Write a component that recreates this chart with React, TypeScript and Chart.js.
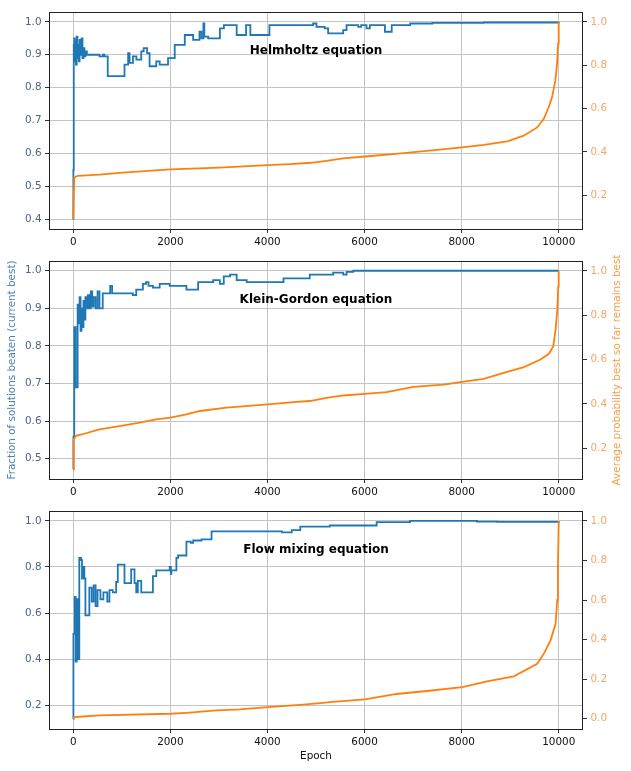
import React, { useEffect, useRef } from "react";
import { Chart, registerables } from "chart.js";

Chart.register(...registerables);

// ---------- data ----------
const epochTicks = [0, 2000, 4000, 6000, 8000, 10000];

const helmholtzTitle = "Helmholtz equation";
const helmholtzBestEpochs = [0, 2, 10, 20, 30, 40, 55, 70, 85, 100, 115, 130, 150, 170, 190, 210, 230, 250, 280, 540, 610, 640, 710, 1055, 1130, 1160, 1230, 1300, 1400, 1450, 1520, 1572, 1710, 1780, 1952, 2090, 2297, 2469, 2600, 2640, 2680, 2700, 2779, 3021, 3103, 3366, 3559, 3648, 4041, 4940, 5009, 5180, 5250, 5560, 5630, 5870, 5930, 6040, 6110, 6420, 6560, 6940, 7400, 8454, 10000];
const helmholtzBestValues = [0.40, 0.55, 0.93, 0.95, 0.88, 0.94, 0.87, 0.955, 0.89, 0.93, 0.88, 0.945, 0.90, 0.95, 0.89, 0.92, 0.895, 0.91, 0.90, 0.895, 0.90, 0.895, 0.835, 0.87, 0.905, 0.875, 0.895, 0.885, 0.91, 0.92, 0.905, 0.865, 0.88, 0.87, 0.89, 0.93, 0.96, 0.945, 0.97, 0.95, 0.995, 0.955, 0.95, 0.98, 0.99, 0.96, 0.99, 0.96, 0.99, 0.995, 0.985, 0.98, 0.965, 0.975, 0.99, 0.985, 0.99, 0.98, 0.99, 0.97, 0.99, 0.995, 0.997, 0.998, 1.0];
const helmholtzProbEpochs = [0, 20, 90, 540, 1020, 2000, 3020, 4000, 4470, 4900, 5215, 5560, 6006, 6594, 7283, 8010, 8455, 8938, 9280, 9555, 9690, 9793, 9862, 9931, 9966, 9986, 10000];
const helmholtzProbValues = [0.09, 0.282, 0.29, 0.295, 0.305, 0.32, 0.328, 0.339, 0.344, 0.35, 0.359, 0.37, 0.379, 0.39, 0.405, 0.421, 0.433, 0.449, 0.475, 0.513, 0.552, 0.606, 0.652, 0.73, 0.807, 0.90, 1.0];
const helmholtzLeftTicks = [0.4, 0.5, 0.6, 0.7, 0.8, 0.9, 1.0];
const helmholtzRightTicks = [0.2, 0.4, 0.6, 0.8, 1.0];

const kleinTitle = "Klein-Gordon equation";
const kleinBestEpochs = [0, 3, 20, 50, 90, 110, 130, 150, 170, 190, 210, 230, 250, 270, 300, 330, 360, 390, 420, 460, 500, 540, 607, 760, 800, 1228, 1297, 1434, 1500, 1550, 1641, 1780, 1986, 2330, 2572, 2883, 3020, 3100, 3230, 3366, 3572, 4331, 4871, 5353, 5560, 5630, 5767, 10000];
const kleinBestValues = [0.472, 0.558, 0.85, 0.69, 0.91, 0.86, 0.93, 0.84, 0.90, 0.85, 0.92, 0.87, 0.93, 0.90, 0.935, 0.90, 0.945, 0.905, 0.93, 0.90, 0.945, 0.90, 0.94, 0.96, 0.94, 0.935, 0.95, 0.965, 0.97, 0.96, 0.955, 0.965, 0.96, 0.95, 0.97, 0.975, 0.965, 0.985, 0.99, 0.975, 0.97, 0.98, 0.99, 0.995, 0.99, 0.997, 1.0, 1.0];
const kleinProbEpochs = [0, 10, 55, 193, 538, 952, 1366, 1710, 2000, 2331, 2607, 3159, 4007, 4538, 4871, 5215, 5560, 6006, 6456, 7007, 7627, 8013, 8454, 8867, 9280, 9625, 9797, 9887, 9935, 9970, 9990, 10000];
const kleinProbValues = [0.106, 0.24, 0.256, 0.263, 0.285, 0.30, 0.315, 0.33, 0.338, 0.353, 0.368, 0.383, 0.398, 0.408, 0.413, 0.427, 0.438, 0.445, 0.453, 0.477, 0.487, 0.499, 0.513, 0.54, 0.566, 0.60, 0.626, 0.659, 0.734, 0.824, 0.93, 1.0];
const kleinLeftTicks = [0.5, 0.6, 0.7, 0.8, 0.9, 1.0];
const kleinRightTicks = [0.2, 0.4, 0.6, 0.8, 1.0];

const flowTitle = "Flow mixing equation";
const flowBestEpochs = [0, 3, 30, 50, 70, 97, 124, 160, 180, 200, 228, 250, 331, 380, 420, 460, 500, 560, 620, 700, 745, 814, 883, 917, 1055, 1193, 1262, 1297, 1330, 1400, 1641, 1710, 1986, 2010, 2021, 2124, 2159, 2331, 2420, 2470, 2641, 2848, 4300, 4500, 4676, 5284, 6249, 6938, 8316, 8730, 10000];
const flowBestValues = [0.14, 0.51, 0.67, 0.39, 0.66, 0.40, 0.84, 0.83, 0.75, 0.80, 0.75, 0.59, 0.71, 0.65, 0.72, 0.63, 0.70, 0.66, 0.69, 0.65, 0.70, 0.69, 0.735, 0.81, 0.73, 0.79, 0.73, 0.69, 0.74, 0.69, 0.76, 0.785, 0.80, 0.77, 0.785, 0.84, 0.85, 0.91, 0.905, 0.915, 0.92, 0.955, 0.95, 0.96, 0.975, 0.98, 0.995, 1.0, 0.997, 0.996, 1.0];
const flowProbEpochs = [0, 20, 124, 538, 2000, 2331, 2952, 3434, 4007, 4676, 5090, 5284, 6008, 6662, 7283, 8013, 8523, 9074, 9556, 9694, 9832, 9935, 9970, 9984, 10000];
const flowProbValues = [0.0, 0.008, 0.01, 0.017, 0.025, 0.03, 0.042, 0.047, 0.059, 0.07, 0.079, 0.084, 0.098, 0.125, 0.14, 0.16, 0.189, 0.214, 0.278, 0.329, 0.396, 0.48, 0.60, 0.77, 1.0];
const flowLeftTicks = [0.2, 0.4, 0.6, 0.8, 1.0];
const flowRightTicks = [0.0, 0.2, 0.4, 0.6, 0.8, 1.0];

const leftAxisTitle = "Fraction of solutions beaten (current best)";
const rightAxisTitle = "Average probability best so far remains best";
const xAxisTitle = "Epoch";

// ---------- layout / style ----------
const W = 631;
const H = 771;
const PLOT_LEFT = 49;
const PLOT_RIGHT = 583;
const X_RANGE = [-500, 10500];

const BLUE = "#1f77b4";
const ORANGE = "#ff7f0e";
const LEFT_TICK_COLOR = "#4d6488";
const LEFT_TITLE_COLOR = "#4a82b8";
const RIGHT_TICK_COLOR = "#f0a868";
const RIGHT_TITLE_COLOR = "#f5a04a";
const GRID_COLOR = "#c4c4c4";
const FONT = "DejaVu Sans";
const FS = 10.4;

type Panel = {
  title: string;
  bestE: number[];
  bestV: number[];
  probE: number[];
  probV: number[];
  leftTicks: number[];
  rightTicks: number[];
  leftRange: number[];
  rightRange: number[];
  top: number;
  bottom: number;
  showLeftTitle: boolean;
  showRightTitle: boolean;
  showXTitle: boolean;
};

const panels: Panel[] = [
  {
    title: helmholtzTitle,
    bestE: helmholtzBestEpochs, bestV: helmholtzBestValues,
    probE: helmholtzProbEpochs, probV: helmholtzProbValues,
    leftTicks: helmholtzLeftTicks, rightTicks: helmholtzRightTicks,
    leftRange: [0.37, 1.03], rightRange: [0.0445, 1.0455],
    top: 12, bottom: 229,
    showLeftTitle: false, showRightTitle: false, showXTitle: false,
  },
  {
    title: kleinTitle,
    bestE: kleinBestEpochs, bestV: kleinBestValues,
    probE: kleinProbEpochs, probV: kleinProbValues,
    leftTicks: kleinLeftTicks, rightTicks: kleinRightTicks,
    leftRange: [0.446, 1.026], rightRange: [0.061, 1.045],
    top: 261, bottom: 479,
    showLeftTitle: true, showRightTitle: true, showXTitle: false,
  },
  {
    title: flowTitle,
    bestE: flowBestEpochs, bestV: flowBestValues,
    probE: flowProbEpochs, probV: flowProbValues,
    leftTicks: flowLeftTicks, rightTicks: flowRightTicks,
    leftRange: [0.097, 1.043], rightRange: [-0.052, 1.05],
    top: 511, bottom: 729,
    showLeftTitle: false, showRightTitle: false, showXTitle: true,
  },
];

const toXY = (xs: number[], ys: number[]) => xs.map((x, i) => ({ x, y: ys[i] }));

const panelPlugin = {
  id: "panelDecor",
  afterDraw(chart: any, _args: any, opts: any) {
    const { ctx, chartArea } = chart;
    const { left, right, top, bottom } = chartArea;
    ctx.save();
    // frame
    ctx.strokeStyle = "#222";
    ctx.lineWidth = 1;
    ctx.strokeRect(Math.round(left) + 0.5, Math.round(top) + 0.5, Math.round(right - left) - 1, Math.round(bottom - top));
    // panel title
    ctx.fillStyle = "#000";
    ctx.font = `bold 12px "${FONT}"`;
    ctx.textAlign = "center";
    ctx.textBaseline = "middle";
    ctx.fillText(opts.title, (left + right) / 2, top + 0.18 * (bottom - top));
    // right axis title
    if (opts.rightTitle) {
      ctx.translate(617, (top + bottom) / 2);
      ctx.rotate(-Math.PI / 2);
      ctx.fillStyle = RIGHT_TITLE_COLOR;
      ctx.font = `${FS}px "${FONT}"`;
      ctx.fillText(opts.rightTitle, 0, 0);
    }
    ctx.restore();
  },
};

function PanelChart({ p }: { p: Panel }) {
  const ref = useRef<HTMLCanvasElement | null>(null);
  useEffect(() => {
    if (!ref.current) return;
    const xHeight = p.showXTitle ? 38 : 20;
    const chart = new Chart(ref.current, {
      type: "line",
      data: {
        datasets: [
          {
            label: "best",
            data: toXY(p.bestE, p.bestV),
            borderColor: BLUE,
            backgroundColor: BLUE,
            borderWidth: 1.8,
            pointRadius: 0,
            stepped: true,
            yAxisID: "yL",
            order: 1,
          },
          {
            label: "prob",
            data: toXY(p.probE, p.probV),
            borderColor: ORANGE,
            backgroundColor: ORANGE,
            borderWidth: 1.8,
            pointRadius: 0,
            tension: 0,
            yAxisID: "yR",
            order: 0,
          },
        ],
      },
      options: {
        animation: false,
        responsive: false,
        events: [],
        layout: {
          padding: { left: 0, right: 0, top: p.top, bottom: H - p.bottom - xHeight },
        },
        plugins: {
          legend: { display: false },
          tooltip: { enabled: false },
          panelDecor: { title: p.title, rightTitle: p.showRightTitle ? rightAxisTitle : "" },
        } as any,
        scales: {
          x: {
            type: "linear",
            min: X_RANGE[0],
            max: X_RANGE[1],
            afterBuildTicks: (s: any) => { s.ticks = epochTicks.map((v) => ({ value: v })); },
            afterFit: (s: any) => { s.height = xHeight; },
            ticks: {
              color: "#111",
              font: { family: FONT, size: FS },
              padding: 3,
              maxRotation: 0,
              callback: (v: any) => String(v),
            },
            grid: { color: GRID_COLOR, lineWidth: 1, tickColor: "#333", tickLength: 4 },
            border: { display: false },
            title: {
              display: p.showXTitle,
              text: xAxisTitle,
              color: "#111",
              font: { family: FONT, size: FS },
              padding: { top: 0, bottom: 4 },
            },
          },
          yL: {
            type: "linear",
            position: "left",
            min: p.leftRange[0],
            max: p.leftRange[1],
            afterBuildTicks: (s: any) => { s.ticks = p.leftTicks.map((v) => ({ value: v })); },
            afterFit: (s: any) => { s.width = PLOT_LEFT; },
            ticks: {
              color: LEFT_TICK_COLOR,
              font: { family: FONT, size: FS },
              padding: 3.5,
              callback: (v: any) => Number(v).toFixed(1),
            },
            grid: { color: GRID_COLOR, lineWidth: 1, tickColor: "#333", tickLength: 4 },
            border: { display: false },
            title: {
              display: p.showLeftTitle,
              text: leftAxisTitle,
              color: LEFT_TITLE_COLOR,
              font: { family: FONT, size: FS },
              padding: { top: 6, bottom: 0 },
            },
          },
          yR: {
            type: "linear",
            position: "right",
            min: p.rightRange[0],
            max: p.rightRange[1],
            afterBuildTicks: (s: any) => { s.ticks = p.rightTicks.map((v) => ({ value: v })); },
            afterFit: (s: any) => { s.width = W - PLOT_RIGHT; },
            ticks: {
              color: RIGHT_TICK_COLOR,
              font: { family: FONT, size: FS },
              padding: 3.5,
              callback: (v: any) => Number(v).toFixed(1),
            },
            grid: { drawOnChartArea: false, color: GRID_COLOR, tickColor: "#333", tickLength: 4 },
            border: { display: false },
          },
        },
      },
      plugins: [panelPlugin],
    });
    return () => chart.destroy();
  }, [p]);
  return (
    <canvas
      ref={ref}
      width={W}
      height={H}
      style={{ position: "absolute", left: 0, top: 0, width: W, height: H }}
    />
  );
}

export default function App() {
  return (
    <div style={{ position: "absolute", left: 0, top: 0, width: W, height: H, background: "#fff" }}>
      {panels.map((p) => (
        <PanelChart key={p.title} p={p} />
      ))}
    </div>
  );
}
